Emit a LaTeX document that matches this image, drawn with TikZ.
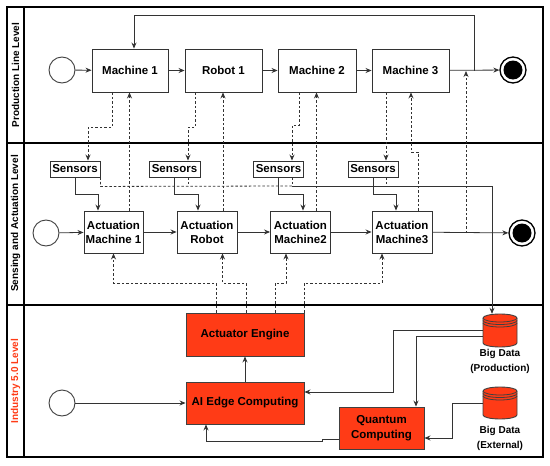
\documentclass[tikz,border=0pt]{standalone}
\usepackage{fontspec}
\setmainfont{Liberation Sans}
\usetikzlibrary{arrows.meta,calc}
\definecolor{ired}{HTML}{FF3B16}
\definecolor{lncol}{HTML}{333333}
\begin{document}
\begin{tikzpicture}[x=1pt,y=-1pt,
  lane/.style={draw=black, line width=1.4pt},
  box/.style={draw=lncol, line width=0.9pt, fill=white, inner sep=0pt, align=center,
    font=\fontsize{11.5}{14}\selectfont\bfseries},
  rbox/.style={box, fill=ired, draw=black!75},
  sbox/.style={draw=lncol, line width=0.9pt, fill=white, inner sep=0pt, minimum height=16,
    font=\fontsize{11.5}{13}\selectfont\bfseries},
  startc/.style={circle, draw=black!75, line width=0.9pt, fill=white, minimum size=26, inner sep=0pt},
  endc/.style={circle, draw=black, line width=1.3pt, fill=white, minimum size=26, inner sep=0pt},
  ln/.style={draw=lncol, line width=0.8pt},
  dsh/.style={draw=lncol, line width=0.8pt, dash pattern=on 2.5pt off 2pt},
  arr/.style={-{Stealth[length=6pt,width=5pt]}},
  lanelbl/.style={rotate=90, font=\fontsize{10}{12}\selectfont\bfseries},
  dblbl/.style={align=center, font=\fontsize{10}{15}\selectfont\bfseries, inner sep=0pt}
]
\useasboundingbox (0,0) rectangle (550,466);
\fill[white] (0,0) rectangle (550,466);

% lanes
\draw[lane] (7,7) rectangle (543,457);
\draw[lane] (24,7) -- (24,457);
\draw[lane] (7,143) -- (543,143);
\draw[lane] (7,305) -- (543,305);
\node[lanelbl] (l1) at (15.5,75) {Production Line Level};
\node[lanelbl] (l2) at (15.5,223.5) {Sensing and Actuation Level};
\node[lanelbl, text=ired] (l3) at (15.5,381) {Industry 5.0 Level};

% production line nodes
\node[startc] (ps) at (62,70) {};
\node[box, minimum width=76, minimum height=43] (m1) at (130,70.5) {Machine 1};
\node[box, minimum width=77, minimum height=43] (r1) at (223.5,70.5) {Robot 1};
\node[box, minimum width=78, minimum height=43] (m2) at (317,70.5) {Machine 2};
\node[box, minimum width=77, minimum height=43] (m3) at (410.5,70.5) {Machine 3};
\node[endc] (pe) at (513,70) {};
\fill[black] (pe.center) circle (9.5);

% sensing nodes
\node[sbox, minimum width=50] (s1) at (75,169) {Sensors};
\node[sbox, minimum width=51] (s2) at (174.5,169) {Sensors};
\node[sbox, minimum width=50] (s3) at (278.5,169) {Sensors};
\node[sbox, minimum width=50] (s4) at (373,169) {Sensors};
\node[startc] (ss) at (46,233) {};
\node[box, minimum width=59, minimum height=42] (am1) at (113.5,232) {Actuation\\Machine 1};
\node[box, minimum width=60, minimum height=42] (ar) at (207,232) {Actuation\\Robot};
\node[box, minimum width=60, minimum height=42] (am2) at (300.5,232) {Actuation\\Machine2};
\node[box, minimum width=60, minimum height=42] (am3) at (402,232) {Actuation\\Machine3};
\node[endc] (se) at (522,233) {};
\fill[black] (se.center) circle (9.5);

% industry nodes
\node[startc] (is) at (62,403) {};
\node[rbox, minimum width=118, minimum height=43] (ae) at (245,334.5) {Actuator Engine};
\node[rbox, minimum width=118, minimum height=42] (ai) at (245,403) {AI Edge Computing};
\node[rbox, minimum width=85, minimum height=42, font=\fontsize{11.5}{15}\selectfont\bfseries] (qc) at (381.5,428) {Quantum\\Computing};
\node[inner sep=0pt, minimum width=34, minimum height=33] (bdp) at (500,330.5) {};
\node[inner sep=0pt, minimum width=34, minimum height=32] (bde) at (500,403) {};
\filldraw[fill=ired, draw=black!75, line width=0.9pt] (483,318) -- (483,343)
  arc[start angle=180,end angle=0,x radius=17,y radius=4] -- (517,318)
  arc[start angle=0,end angle=-180,x radius=17,y radius=4] -- cycle;
\foreach \yy in {318,320.5,323}
  \draw[black!75, line width=0.8pt] (483,\yy) arc[start angle=180,end angle=0,x radius=17,y radius=4];
\filldraw[fill=ired, draw=black!75, line width=0.9pt] (483,391) -- (483,415)
  arc[start angle=180,end angle=0,x radius=17,y radius=4] -- (517,391)
  arc[start angle=0,end angle=-180,x radius=17,y radius=4] -- cycle;
\foreach \yy in {391,393.5,396}
  \draw[black!75, line width=0.8pt] (483,\yy) arc[start angle=180,end angle=0,x radius=17,y radius=4];
\node[dblbl] (bdpl) at (500,361.5) {Big Data\\(Production)};
\node[dblbl] (bdel) at (500,438.5) {Big Data\\(External)};

% production flow
\draw[ln,arr] (ps) -- (m1);
\draw[ln,arr] (m1) -- (r1);
\draw[ln,arr] (r1) -- (m2);
\draw[ln,arr] (m2) -- (m3);
\draw[ln,arr] (m3) -- (pe);
\coordinate (fb) at (474,70.5);
\draw[ln,arr] (fb) -- (474,15) -| ([xshift=4pt]m1.north);

% production -> sensors (dashed)
\draw[dsh,arr] ([xshift=-18pt]m1.south) -- ++(0,35) -| ([xshift=13pt]s1.north);
\draw[dsh,arr] ([xshift=-28.5pt]r1.south) -- ++(0,35) -| ([xshift=13.5pt]s2.north);
\draw[dsh,arr] ([xshift=-18pt]m2.south) -- ++(0,33) -| ([xshift=13.5pt]s3.north);
\draw[dsh,arr] ([xshift=-24.5pt]m3.south) -- ([xshift=13pt]s4.north);

% actuation -> production (dashed)
\draw[dsh,arr] ([xshift=16pt]am1.north) -- ([xshift=-0.5pt]m1.south);
\draw[dsh,arr] ([xshift=16pt]ar.north) -- ([xshift=-0.5pt]r1.south);
\draw[dsh,arr] ([xshift=16pt]am2.north) -- ([xshift=-0.5pt]m2.south);
\draw[dsh,arr] ([xshift=16pt]am3.north) -- (418,152) -| ([xshift=0.5pt]m3.south);
\coordinate (j1) at (466,233);
\draw[dsh,arr] (j1) -- (466,71);

% sensors -> actuation
\draw[ln,arr] (s1.south) -- ++(0,17) -| ([xshift=-15.5pt]am1.north);
\draw[ln,arr] (s2.south) -- ++(0,17) -| ([xshift=-9pt]ar.north);
\draw[ln,arr] (s3.south) -- ++(0,17) -| ([xshift=2.5pt]am2.north);
\draw[ln,arr] (s4.south) -- ++(0,17) -| ([xshift=-6pt]am3.north);

% sensor data bus
\coordinate (bus) at (292,186);
\draw[dsh] (s1.south east) -- ++(0,9) -- (bus);
\draw[dsh] ([xshift=13.5pt]s2.south) -- ++(0,9);
\draw[dsh] ([xshift=13.5pt]s3.south) -- ++(0,9);
\draw[dsh] ([xshift=13pt]s4.south) -- ++(0,9);
\draw[ln,arr] (bus) -- (492,186) -- ([xshift=-8pt]bdp.north);

% actuation flow
\draw[ln,arr] (ss) -- (am1);
\draw[ln,arr] (am1) -- (ar);
\draw[ln,arr] (ar) -- (am2);
\draw[ln,arr] (am2) -- (am3);
\draw[ln,arr] (am3) -- (se);

% actuator engine -> actuation (dashed)
\draw[dsh,arr] ([xshift=-29pt]ae.north) -- (216,283) -| (am1.south);
\draw[dsh,arr] ([xshift=1pt]ae.north) -- (246,283) -| ([xshift=15.5pt]ar.south);
\draw[dsh,arr] ([xshift=30pt]ae.north) -- (275,283) -| ([xshift=-14.5pt]am2.south);
\draw[dsh,arr] ([xshift=59pt]ae.north) -- (304,283) -| ([xshift=-20pt]am3.south);

% industry flow
\draw[ln,arr] (is) -- (ai);
\draw[ln,arr] (ai) -- (ae);
\draw[ln,arr] ([yshift=-11pt]qc.west) -- (322,439) -- (322,441) -| ([xshift=-39pt]ai.south);
\draw[ln,arr] (bdp.west) -- ++(-89,0) |- ([yshift=11pt]ai.east);
\draw[ln,arr] ([yshift=-6pt]bdp.west) -| ([xshift=34.5pt]qc.north);
\draw[ln,arr] (bde.west) -- ++(-30,0) |- ([yshift=-10pt]qc.east);
\end{tikzpicture}
\end{document}
